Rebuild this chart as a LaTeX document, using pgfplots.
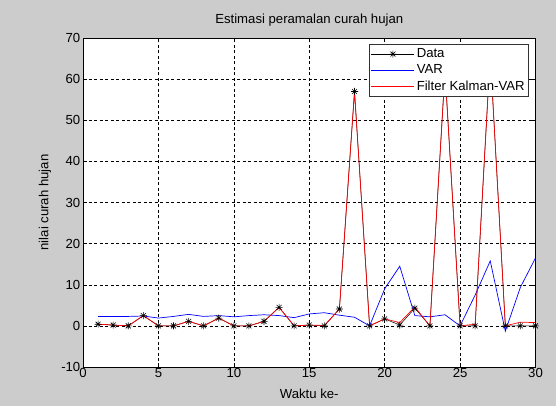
\documentclass[border=0pt]{standalone}
\usepackage{fontspec}
\setmainfont{Liberation Sans}
\usepackage{pgfplots}
\pgfplotsset{compat=1.18}
\definecolor{figbg}{RGB}{204,204,204}
\definecolor{mblue}{RGB}{0,0,255}
\definecolor{mred}{RGB}{255,0,0}
\pgfdeclareplotmark{mstar}{%
  \pgfpathmoveto{\pgfqpoint{0pt}{\pgfplotmarksize}}\pgfpathlineto{\pgfqpoint{0pt}{-\pgfplotmarksize}}%
  \pgfpathmoveto{\pgfqpoint{\pgfplotmarksize}{0pt}}\pgfpathlineto{\pgfqpoint{-\pgfplotmarksize}{0pt}}%
  \pgfpathmoveto{\pgfqpoint{0.707\pgfplotmarksize}{0.707\pgfplotmarksize}}\pgfpathlineto{\pgfqpoint{-0.707\pgfplotmarksize}{-0.707\pgfplotmarksize}}%
  \pgfpathmoveto{\pgfqpoint{-0.707\pgfplotmarksize}{0.707\pgfplotmarksize}}\pgfpathlineto{\pgfqpoint{0.707\pgfplotmarksize}{-0.707\pgfplotmarksize}}%
  \pgfusepathqstroke}
\newcommand{\ff}{\fontsize{13.2}{15}\selectfont}
\begin{document}
\ff
\begin{tikzpicture}
\fill[figbg] (0,0) rectangle (556bp,406bp);
\begin{axis}[
  at={(83bp,39bp)}, anchor=south west,
  scale only axis, width=452.5bp, height=329bp,
  xmin=0, xmax=30, ymin=-10, ymax=70,
  xtick={0,5,...,30}, ytick={-10,0,...,70},
  /pgf/number format/assume math mode=true,
  ticklabel style={font=\ff},
  xticklabel style={inner sep=1.5bp},
  yticklabel style={inner sep=2.5bp},
  label style={font=\ff},
  tick align=inside, major tick length=4bp,
  axis line style={line width=0.6bp, black},
  every tick/.style={black, line width=0.5bp},
  grid=major,
  major grid style={black, line width=0.5bp, dash pattern=on 3bp off 2.5bp},
  axis background/.style={fill=white},
  title={Estimasi peramalan curah hujan},
  title style={font=\ff, yshift=1.5bp},
  xlabel={Waktu ke-},
  xlabel style={at={(axis description cs:0.5,0)}, anchor=base, yshift=-32bp},
  ylabel={nilai curah hujan},
  ylabel style={at={(axis description cs:-0.084,0.5)}, anchor=center},
  legend style={at={(0.9856,0.981)}, anchor=north east, draw=black!80, line width=0.6bp,
    fill=white, font=\ff, inner xsep=2bp, inner ysep=2bp,
    row sep=1bp, cells={anchor=west}},
  legend image code/.code={\draw[mark repeat=2,mark phase=2,#1] plot coordinates {(0bp,0bp) (21.5bp,0bp) (43bp,0bp)};},
]
\addplot[black, line width=0.5bp, mark=mstar, mark size=3.5bp, mark options={line width=0.6bp}] coordinates {
(1,0.4) (2,0.2) (3,0) (4,2.5) (5,0) (6,0) (7,1.1) (8,0) (9,1.9) (10,0)
(11,0) (12,1.1) (13,4.5) (14,0) (15,0.2) (16,0) (17,4.1) (18,57) (19,0) (20,1.7)
(21,0.2) (22,4.3) (23,0) (24,62) (25,0) (26,0) (27,66) (28,0) (29,0) (30,0)};
\addlegendentry{Data}
\addplot[mblue, line width=0.7bp] coordinates {
(1,2.3) (2,2.3) (3,2.3) (4,2.4) (5,1.9) (6,2.3) (7,2.8) (8,2.3) (9,2.5) (10,2.2)
(11,2.5) (12,2.7) (13,2.5) (14,2.0) (15,2.9) (16,3.2) (17,2.6) (18,2.1) (19,0) (20,9)
(21,14.5) (22,2.5) (23,2.2) (24,2.7) (25,0) (26,7.5) (27,15.8) (28,-1.3) (29,9.4) (30,16.5)};
\addlegendentry{VAR}
\addplot[mred, line width=0.7bp] coordinates {
(1,0.4) (2,0.2) (3,0) (4,2.5) (5,0) (6,0) (7,1.1) (8,0) (9,1.9) (10,0)
(11,0) (12,1.1) (13,4.5) (14,0) (15,0.2) (16,0.1) (17,4.1) (18,57) (19,0) (20,1.7)
(21,0.8) (22,4.6) (23,0) (24,62) (25,0) (26,0.4) (27,66) (28,0) (29,0.9) (30,0.8)};
\addlegendentry{Filter Kalman-VAR}
\end{axis}
\end{tikzpicture}
\end{document}
